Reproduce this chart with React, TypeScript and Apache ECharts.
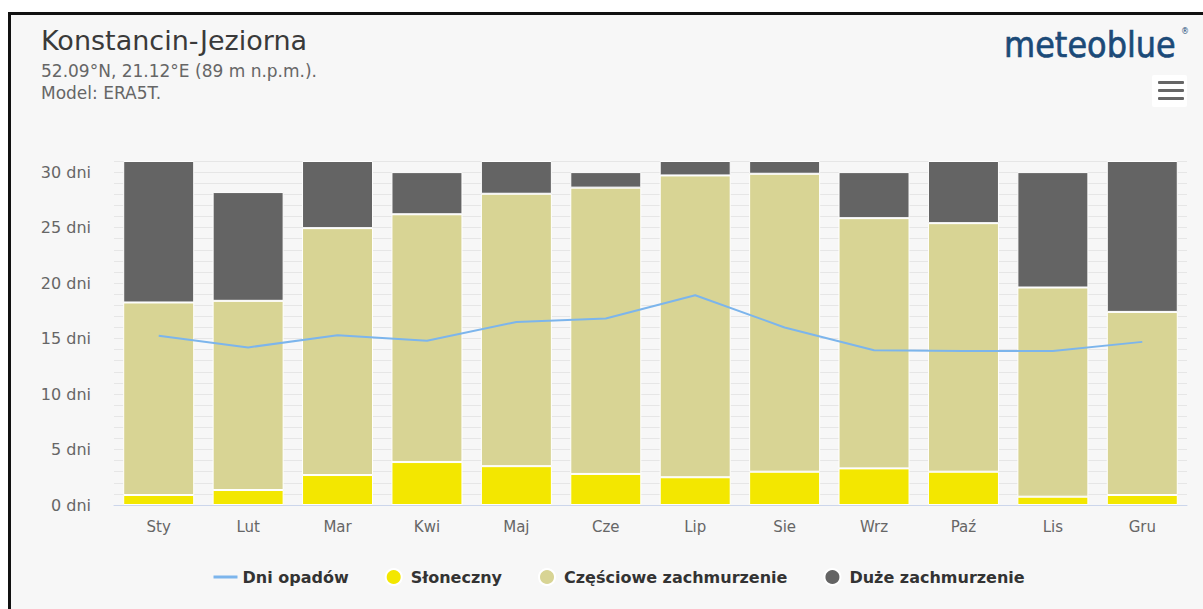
import React, { useEffect, useRef } from "react";
import * as echarts from "echarts";

const months = ["Sty", "Lut", "Mar", "Kwi", "Maj", "Cze", "Lip", "Sie", "Wrz", "Paź", "Lis", "Gru"];
const sunny = [0.9, 1.35, 2.7, 3.87, 3.5, 2.8, 2.5, 3.0, 3.3, 3.0, 0.75, 0.9];
const partlyCloudy = [17.35, 17.05, 22.25, 22.33, 24.55, 25.8, 27.2, 26.85, 22.55, 22.4, 18.85, 16.5];
const overcast = [12.75, 9.8, 6.05, 3.8, 2.95, 1.4, 1.3, 1.15, 4.15, 5.6, 10.4, 13.6];
const precipDays = [15.25, 14.2, 15.3, 14.8, 16.5, 16.8, 18.9, 16.0, 13.95, 13.87, 13.87, 14.7];

const title = "Konstancin-Jeziorna";
const subtitle1 = "52.09°N, 21.12°E (89 m n.p.m.).";
const subtitle2 = "Model: ERA5T.";
const seriesNames = ["Dni opadów", "Słoneczny", "Częściowe zachmurzenie", "Duże zachmurzenie"];
const colors = { line: "#7cb5ec", sunny: "#f3e700", partly: "#d8d494", overcast: "#646464" };

const FONT = "DejaVu Sans";

export default function App() {
  const ref = useRef<HTMLDivElement>(null);
  useEffect(() => {
    if (!ref.current) return;
    const chart = echarts.init(ref.current, null, { renderer: "svg" });
    const barCommon = {
      type: "bar",
      stack: "sky",
      barWidth: 71,
      itemStyle: { borderColor: "#ffffff", borderWidth: 1 },
      emphasis: { disabled: true },
    };
    chart.setOption({
      animation: false,
      backgroundColor: "#ffffff",
      textStyle: { fontFamily: FONT },
      graphic: [
        { type: "rect", z: -10, shape: { x: 10, y: 14, width: 1193, height: 595 }, style: { fill: "#f7f7f7" } },
        { type: "rect", z: -9, shape: { x: 8, y: 12, width: 1195, height: 3 }, style: { fill: "#111111" } },
        { type: "rect", z: -9, shape: { x: 8, y: 12, width: 3, height: 597 }, style: { fill: "#111111" } },
        {
          type: "text",
          style: { text: title, x: 41, y: 40, fill: "#3a3a3a", fontSize: 27, fontFamily: FONT, align: "left", verticalAlign: "middle" },
        },
        {
          type: "text",
          style: { text: subtitle1, x: 41, y: 71, fill: "#666666", fontSize: 17, fontFamily: FONT, align: "left", verticalAlign: "middle" },
        },
        {
          type: "text",
          style: { text: subtitle2, x: 41, y: 93, fill: "#666666", fontSize: 17, fontFamily: FONT, align: "left", verticalAlign: "middle" },
        },
        {
          type: "text",
          x: 1004,
          y: 45,
          scaleY: 1.1,
          style: {
            text: "meteoblue",
            x: 0,
            y: 0,
            fill: "#1b4a78",
            stroke: "#1b4a78",
            lineWidth: 0.6,
            fontSize: 32,
            fontFamily: FONT,
            align: "left",
            verticalAlign: "middle",
          },
        },
        {
          type: "text",
          style: { text: "®", x: 1181, y: 31, fill: "#1b4a78", fontSize: 8, fontFamily: FONT, align: "left", verticalAlign: "middle" },
        },
        { type: "rect", shape: { x: 1152, y: 75, width: 35, height: 32, r: 2 }, style: { fill: "#ffffff" } },
        { type: "rect", shape: { x: 1158, y: 81, width: 26, height: 3, r: 1 }, style: { fill: "#666666" } },
        { type: "rect", shape: { x: 1158, y: 89, width: 26, height: 3, r: 1 }, style: { fill: "#666666" } },
        { type: "rect", shape: { x: 1158, y: 97, width: 26, height: 3, r: 1 }, style: { fill: "#666666" } },
      ],
      legend: {
        left: 207,
        top: 563,
        itemWidth: 24,
        itemHeight: 16,
        itemGap: 36,
        textStyle: { fontSize: 16, fontWeight: "bold", color: "#333333", fontFamily: FONT },
        data: [
          { name: seriesNames[0], itemStyle: { opacity: 0 }, lineStyle: { width: 3 } },
          { name: seriesNames[1], icon: "circle" },
          { name: seriesNames[2], icon: "circle" },
          { name: seriesNames[3], icon: "circle" },
        ],
      },
      grid: { left: 114, right: 16, top: 161, bottom: 104, containLabel: false },
      xAxis: {
        type: "category",
        data: months,
        axisLine: { lineStyle: { color: "#ccd6eb", width: 1 } },
        axisTick: { show: false },
        axisLabel: { color: "#666666", fontSize: 15, margin: 14, fontFamily: FONT },
        splitLine: { show: false },
      },
      yAxis: {
        type: "value",
        min: 0,
        max: 31,
        interval: 1,
        axisLine: { show: false },
        axisTick: { show: false },
        axisLabel: {
          color: "#666666",
          fontSize: 16,
          margin: 23,
          fontFamily: FONT,
          formatter: (v: number) => (v % 5 === 0 ? `${v} dni` : ""),
        },
        splitLine: { lineStyle: { color: "#e6e6e6", width: 1 } },
      },
      series: [
        { ...barCommon, name: seriesNames[1], data: sunny, itemStyle: { ...barCommon.itemStyle, color: colors.sunny } },
        { ...barCommon, name: seriesNames[2], data: partlyCloudy, itemStyle: { ...barCommon.itemStyle, color: colors.partly } },
        { ...barCommon, name: seriesNames[3], data: overcast, itemStyle: { ...barCommon.itemStyle, color: colors.overcast } },
        {
          type: "line",
          name: seriesNames[0],
          data: precipDays,
          symbol: "none",
          z: 5,
          lineStyle: { color: colors.line, width: 2 },
          itemStyle: { color: colors.line },
          emphasis: { disabled: true },
        },
      ],
    });
    return () => chart.dispose();
  }, []);
  return <div ref={ref} style={{ position: "absolute", left: 0, top: 0, width: 1203, height: 609 }} />;
}
